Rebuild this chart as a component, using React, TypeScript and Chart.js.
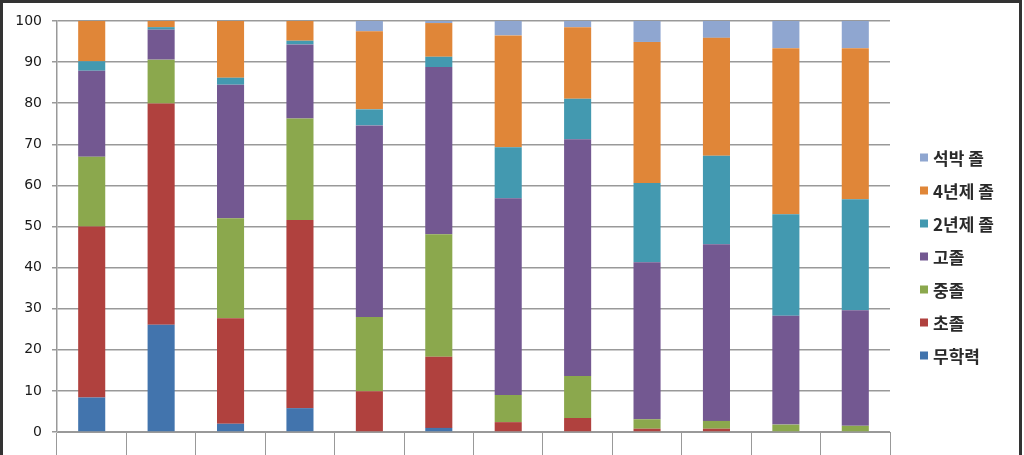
import { useEffect, useRef } from 'react';
import { Chart, registerables } from 'chart.js';

Chart.register(...registerables);

const categories = ['1', '2', '3', '4', '5', '6', '7', '8', '9', '10', '11', '12'];
const seriesNames = ['무학력', '초졸', '중졸', '고졸', '2년제 졸', '4년제 졸', '석박 졸'];
const noEdu = [8.4, 26.1, 2.0, 5.8, 0, 1.0, 0, 0, 0, 0, 0, 0];
const elementary = [41.6, 53.8, 25.7, 45.8, 9.9, 17.3, 2.4, 3.4, 0.8, 0.8, 0, 0];
const middle = [17.0, 10.7, 24.3, 24.7, 18.1, 29.8, 6.6, 10.2, 2.3, 1.9, 1.8, 1.5];
const high = [20.9, 7.3, 32.5, 18.0, 46.6, 40.7, 47.9, 57.6, 38.2, 43.0, 26.5, 28.1];
const college2 = [2.3, 0.6, 1.7, 0.9, 3.9, 2.5, 12.4, 9.9, 19.3, 21.5, 24.7, 27.0];
const univ4 = [9.8, 1.5, 13.8, 4.8, 19.0, 8.2, 27.2, 17.4, 34.3, 28.7, 40.4, 36.8];
const graduate = [0, 0, 0, 0, 2.5, 0.5, 3.5, 1.5, 5.1, 4.1, 6.6, 6.6];
const colors = ['#4274AD', '#B0413E', '#8BA84D', '#735891', '#4399B0', '#E08638', '#8FA6D0'];

const seriesValues = [noEdu, elementary, middle, high, college2, univ4, graduate];

const legendPlugin = {
  id: 'sideLegend',
  afterDraw(chart: any) {
    const ctx = chart.ctx;
    const ds = chart.data.datasets.slice().reverse();
    ctx.save();
    ctx.font = 'bold 17px "Noto Sans CJK KR", sans-serif';
    ctx.textBaseline = 'middle';
    ctx.textAlign = 'left';
    ds.forEach((d: any, i: number) => {
      const y = 157.5 + i * 33;
      ctx.fillStyle = d.backgroundColor;
      ctx.fillRect(920, y - 4, 8, 8);
      ctx.fillStyle = '#2a2a2a';
      ctx.fillText(d.label, 933, y + 1);
    });
    ctx.restore();
  },
};

export default function App() {
  const ref = useRef<HTMLCanvasElement>(null);
  useEffect(() => {
    document.body.style.margin = '0';
    const chart = new Chart(ref.current!, {
      type: 'bar',
      data: {
        labels: categories,
        datasets: seriesValues.map((vals, i) => ({
          label: seriesNames[i],
          data: vals,
          backgroundColor: colors[i],
          borderWidth: 0,
          barPercentage: 0.39,
          categoryPercentage: 1,
        })),
      },
      options: {
        responsive: false,
        animation: false,
        devicePixelRatio: 1,
        layout: { padding: { top: 21, right: 134, left: 0, bottom: 0 } },
        plugins: { legend: { display: false }, tooltip: { enabled: false } },
        scales: {
          x: {
            stacked: true,
            grid: { drawOnChartArea: false, drawTicks: true, tickLength: 23, color: '#999', offset: true, lineWidth: 1 },
            border: { color: '#999' },
            ticks: { display: false },
            afterFit: (s: any) => { s.height = 23; },
          },
          y: {
            stacked: true,
            min: 0,
            max: 100,
            ticks: { stepSize: 10, padding: 10, color: '#1a1a1a', font: { family: '"DejaVu Sans", sans-serif', size: 14 } },
            grid: { color: '#999', lineWidth: 1.5, tickLength: 5 },
            border: { color: '#999', width: 1.5 },
            afterFit: (s: any) => { s.width = 57; },
          },
        },
      },
      plugins: [legendPlugin],
    });
    return () => chart.destroy();
  }, []);
  return (
    <div style={{ position: 'relative', width: 1024, height: 455, overflow: 'hidden', background: '#fff' }}>
      <canvas ref={ref} width={1024} height={455} style={{ display: 'block', width: 1024, height: 455 }} />
      <div style={{ position: 'absolute', left: 0, top: 0, width: 1022, height: 470, boxSizing: 'border-box', border: '3px solid #333', pointerEvents: 'none' }} />
    </div>
  );
}
